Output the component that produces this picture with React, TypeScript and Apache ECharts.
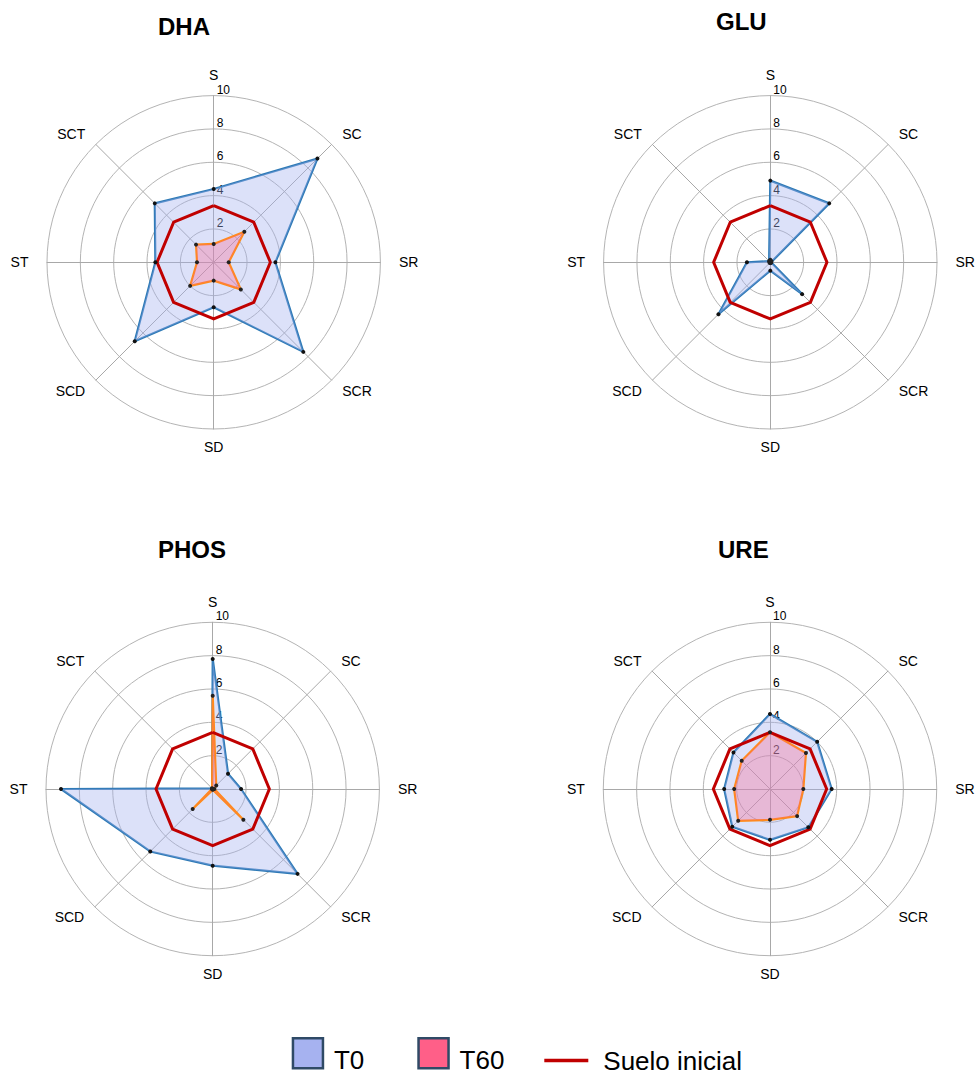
import React, { useEffect, useRef } from 'react';
import * as echarts from 'echarts';

// Axes in clockwise order starting at the top
const axesCW = ['S', 'SC', 'SR', 'SCR', 'SD', 'SCD', 'ST', 'SCT'];
const panelTitles = ['DHA', 'GLU', 'PHOS', 'URE'];

const dhaT0 = [4.4, 8.8, 3.7, 7.6, 2.7, 6.7, 3.5, 5.0];
const dhaT60 = [1.1, 2.6, 0.9, 2.3, 1.1, 2.0, 1.0, 1.5];
const gluT0 = [4.9, 5.0, 0.05, 2.7, 0.5, 4.4, 1.4, 0.1];
const gluT60 = [0.15, 0.1, 0.05, 0.05, 0.05, 0.05, 0.05, 0.05];
const phosT0 = [7.8, 1.3, 1.7, 7.2, 4.6, 5.3, 9.1, 0.05];
const phosT60 = [5.6, 0.3, 0.1, 2.6, 0.05, 1.7, 0.05, 0.05];
const ureT0 = [4.5, 4.0, 3.7, 3.25, 3.05, 3.2, 2.75, 3.1];
const ureT60 = [3.4, 3.05, 2.0, 2.3, 1.85, 2.7, 2.15, 2.4];
const sueloInicial = [3.4, 3.4, 3.4, 3.4, 3.4, 3.4, 3.4, 3.4];

const seriesNames = ['T0', 'T60', 'Suelo inicial'];
const axisMin = 0;
const axisMax = 10;

const FONT = '"Liberation Sans", Arial, sans-serif';

// ECharts lays radar indicators counter-clockwise; reorder clockwise data
const toCCW = (a: any[]) => [a[0], ...a.slice(1).reverse()];

const nameGapFor = (n: string) =>
  n === 'S' ? 13.5 : n === 'SD' ? 11 : n === 'ST' || n === 'SR' ? 18.5 : 15;

const panels = [
  { t0: dhaT0, t60: dhaT60, center: [213.7, 262.3], title: { left: 158, top: 14 } },
  { t0: gluT0, t60: gluT60, center: [770.3, 262.3], title: { left: 716, top: 9 } },
  { t0: phosT0, t60: phosT60, center: [212.7, 789], title: { left: 158, top: 537 } },
  { t0: ureT0, t60: ureT60, center: [770, 789], title: { left: 718, top: 537 } },
];

export default function App() {
  const ref = useRef<HTMLDivElement>(null);
  useEffect(() => {
    if (!ref.current) return;
    const chart = echarts.init(ref.current, null, { renderer: 'svg' });
    const indicator = toCCW(axesCW).map((n: string) => ({
      name: n,
      min: axisMin,
      max: axisMax,
      nameGap: nameGapFor(n),
      axisLabel: { show: n === 'S' },
    }));
    const option: any = {
      animation: false,
      backgroundColor: '#fff',
      textStyle: { fontFamily: FONT },
      title: panels.map((p, i) => ({
        text: panelTitles[i],
        left: p.title.left,
        top: p.title.top,
        padding: 0,
        textStyle: { fontSize: 24, fontWeight: 'bold', color: '#000', fontFamily: FONT },
      })),
      legend: [
        {
          left: 291.7,
          top: 1033.2,
          padding: 0,
          itemWidth: 30,
          itemHeight: 30,
          itemGap: 53,
          formatter: '{a|{name}}',
          textStyle: {
            fontSize: 26,
            color: '#000',
            fontFamily: FONT,
            rich: {
              a: { fontSize: 26, lineHeight: 30, color: '#000', fontFamily: FONT, padding: [14, 0, 0, 6] },
            },
          },
          data: [
            { name: 'T0', icon: 'rect', itemStyle: { color: '#a6b2f0', borderColor: '#2f4a66', borderWidth: 2.5 } },
            { name: 'T60', icon: 'rect', itemStyle: { color: '#ff5f88', borderColor: '#2f4a66', borderWidth: 2.5 } },
          ],
        },
        {
          left: 544.3,
          top: 1047.5,
          padding: 0,
          itemWidth: 44,
          itemHeight: 3.3,
          textStyle: { fontSize: 26, color: '#000', fontFamily: FONT, padding: [0, 0, 0, 10] },
          data: [
            { name: 'Suelo inicial', icon: 'rect', itemStyle: { color: '#c00000', borderWidth: 0 } },
          ],
        },
      ],
      radar: panels.map((p) => ({
        center: p.center,
        radius: 166.7,
        startAngle: 90,
        shape: 'circle',
        splitNumber: 5,
        indicator,
        nameGap: 15,
        axisName: { color: '#000', fontSize: 14, fontFamily: FONT },
        splitLine: { lineStyle: { color: '#b4b4b4', width: 1 } },
        splitArea: { show: false },
        axisLine: { lineStyle: { color: '#a8a8a8', width: 1 } },
        axisTick: { show: false },
        axisLabel: {
          show: false,
          color: '#000',
          fontSize: 12,
          fontFamily: FONT,
          align: 'left',
          verticalAlign: 'bottom',
          margin: -3,
          formatter: (v: number) => (v === 0 ? '' : String(v)),
        },
      })),
      series: panels.map((p, i) => ({
        type: 'radar',
        radarIndex: i,
        data: [
          {
            name: seriesNames[0],
            value: toCCW(p.t0),
            symbol: 'circle',
            symbolSize: 4,
            itemStyle: { color: '#111' },
            lineStyle: { color: '#2e7ab6', width: 2.2 },
            areaStyle: { color: 'rgba(164,178,240,0.55)' },
          },
          {
            name: seriesNames[1],
            value: toCCW(p.t60),
            symbol: 'circle',
            symbolSize: 4,
            itemStyle: { color: '#222' },
            lineStyle: { color: '#ff8c1a', width: 2.2 },
            areaStyle: { color: 'rgba(255,95,136,0.45)' },
          },
          {
            name: seriesNames[2],
            value: toCCW(sueloInicial),
            symbol: 'none',
            lineStyle: { color: '#c00000', width: 3 },
          },
        ],
      })),
    };
    chart.setOption(option);
    return () => chart.dispose();
  }, []);
  return (
    <div
      ref={ref}
      style={{ position: 'absolute', left: 0, top: 0, width: 976, height: 1074 }}
    />
  );
}
